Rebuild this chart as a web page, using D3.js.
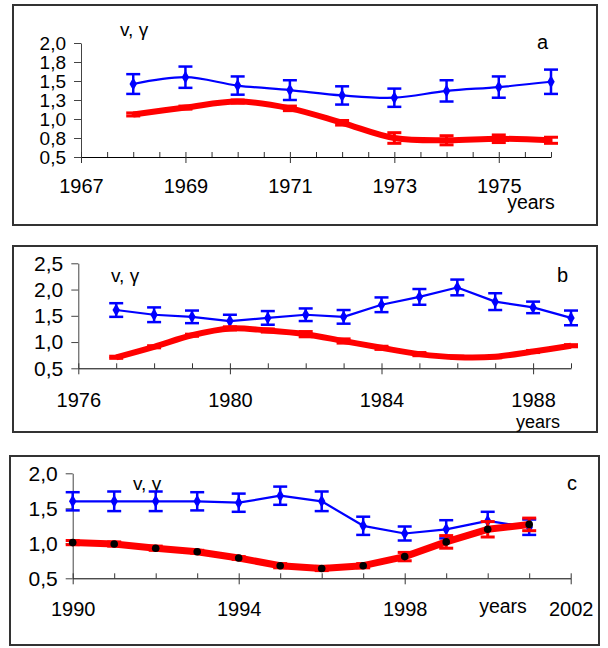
<!DOCTYPE html>
<html>
<head>
<meta charset="utf-8">
<script src="https://cdn.jsdelivr.net/npm/d3@7"></script>
<style>
  html, body { margin: 0; padding: 0; background: #fff; }
  svg { display: block; font-family: "Liberation Sans", Arial, sans-serif; }
</style>
</head>
<body>
<svg id="chart" width="608" height="648"></svg>
<script>
// ---------------- DATA ----------------
// Panel a
const yearsA = [1968, 1969, 1970, 1971, 1972, 1973, 1974, 1975, 1976];
const blueA = [1.46, 1.55, 1.44, 1.38, 1.31, 1.28, 1.37, 1.42, 1.49];
const blueErrA = [0.13, 0.14, 0.12, 0.13, 0.12, 0.12, 0.14, 0.14, 0.16];
const redA = [1.06, 1.15, 1.23, 1.14, 0.95, 0.75, 0.72, 0.74, 0.72];
const redErrA = [0.02, 0.02, 0.02, 0.03, 0.03, 0.07, 0.06, 0.05, 0.04];
const yTicksA = [0.5, 0.75, 1.0, 1.25, 1.5, 1.75, 2.0];
const yLabelsA = ["0,5", "0,8", "1,0", "1,3", "1,5", "1,8", "2,0"];
const xLabelsA = [1967, 1969, 1971, 1973, 1975];

// Panel b
const yearsB = [1977, 1978, 1979, 1980, 1981, 1982, 1983, 1984, 1985, 1986, 1987, 1988, 1989];
const blueB = [1.61, 1.52, 1.48, 1.40, 1.46, 1.52, 1.48, 1.71, 1.86, 2.04, 1.77, 1.66, 1.46];
const blueErrB = [0.13, 0.14, 0.12, 0.12, 0.13, 0.12, 0.13, 0.14, 0.15, 0.15, 0.16, 0.11, 0.14];
const redB = [0.71, 0.91, 1.13, 1.26, 1.22, 1.15, 1.02, 0.89, 0.77, 0.71, 0.72, 0.82, 0.93];
const redErrB = [0.02, 0.02, 0.02, 0.03, 0.03, 0.05, 0.04, 0.03, 0.03, 0.02, 0.02, 0.02, 0.02];
const yTicksB = [0.5, 1.0, 1.5, 2.0, 2.5];
const yLabelsB = ["0,5", "1,0", "1,5", "2,0", "2,5"];
const xLabelsB = [1976, 1980, 1984, 1988];

// Panel c
const yearsC = [1990, 1991, 1992, 1993, 1994, 1995, 1996, 1997, 1998, 1999, 2000, 2001];
const blueC = [1.60, 1.60, 1.60, 1.60, 1.58, 1.68, 1.60, 1.25, 1.14, 1.20, 1.32, 1.23];
const blueErrC = [0.13, 0.14, 0.14, 0.13, 0.13, 0.13, 0.14, 0.13, 0.10, 0.13, 0.13, 0.11];
const redC = [1.01, 0.99, 0.93, 0.88, 0.79, 0.68, 0.64, 0.68, 0.81, 1.02, 1.20, 1.27];
const redErrC = [0.03, 0.03, 0.03, 0.02, 0.02, 0.03, 0.03, 0.03, 0.06, 0.09, 0.11, 0.09];
const yTicksC = [0.5, 1.0, 1.5, 2.0];
const yLabelsC = ["0,5", "1,0", "1,5", "2,0"];
const xLabelsC = [1990, 1994, 1998, 2002];

const axisTitle = "v, γ";
const xTitle = "years";

// ---------------- LAYOUT ----------------
const panels = [
  { letter: "a", years: yearsA, blue: blueA, blueErr: blueErrA, red: redA, redErr: redErrA,
    yTicks: yTicksA, yLabels: yLabelsA, xLabels: xLabelsA,
    frame: [13, 5, 597, 225], xDom: [1967, 1976], xRange: [81, 551], minorStep: 0.5,
    yDom: [0.5, 2.0], yRange: [157, 43], labelDy: 36, yFont: 19,
    yearsPos: [531, 209], yearsFont: 19.5, titlePos: [120, 36], letterPos: [537, 49],
    smoothBlue: true, smoothRed: true, redWidth: 6, dots: false },
  { letter: "b", years: yearsB, blue: blueB, blueErr: blueErrB, red: redB, redErr: redErrB,
    yTicks: yTicksB, yLabels: yLabelsB, xLabels: xLabelsB,
    frame: [13, 246, 597, 432], xDom: [1976, 1989], xRange: [78.3, 571], minorStep: 1,
    yDom: [0.5, 2.5], yRange: [368.3, 263.3], labelDy: 39, yFont: 21,
    yearsPos: [538, 427.5], yearsFont: 18, titlePos: [111, 282], letterPos: [557, 282],
    smoothBlue: false, smoothRed: true, redWidth: 6, dots: false },
  { letter: "c", years: yearsC, blue: blueC, blueErr: blueErrC, red: redC, redErr: redErrC,
    yTicks: yTicksC, yLabels: yLabelsC, xLabels: xLabelsC,
    frame: [10, 456, 599, 645], xDom: [1990, 2002], xRange: [72.7, 570.7], minorStep: 1,
    yDom: [0.5, 2.0], yRange: [578.3, 473.3], labelDy: 38, yFont: 21,
    yearsPos: [503, 613], yearsFont: 19.5, titlePos: [133, 490], letterPos: [567, 490],
    smoothBlue: false, smoothRed: false, redWidth: 7, dots: true }
];

const BLUE = "#0000ff", RED = "#ff0000";
const svg = d3.select("#chart");
svg.append("rect").attr("width", 608).attr("height", 648).attr("fill", "#fff");

panels.forEach(p => {
  const g = svg.append("g");
  const [fx0, fy0, fx1, fy1] = p.frame;
  g.append("rect").attr("x", fx0).attr("y", fy0).attr("width", fx1 - fx0).attr("height", fy1 - fy0)
    .attr("fill", "none").attr("stroke", "#333").attr("stroke-width", 2);

  const x = d3.scaleLinear().domain(p.xDom).range(p.xRange);
  const y = d3.scaleLinear().domain(p.yDom).range(p.yRange);
  const y0 = p.yRange[0];

  // Y axis
  const yAxis = d3.axisLeft(y).tickValues(p.yTicks)
    .tickFormat((d, i) => p.yLabels[i]).tickSize(7).tickSizeOuter(0).tickPadding(8);
  const ya = g.append("g").attr("transform", `translate(${p.xRange[0]},0)`).call(yAxis);
  ya.select(".domain").attr("stroke", "#444");
  ya.selectAll(".tick line").attr("stroke", "#444");
  ya.selectAll("text").attr("font-size", p.yFont).attr("fill", "#000")
    .attr("font-family", "Liberation Sans, Arial, sans-serif");

  // X axis: minor ticks (inside)
  const minor = d3.range(p.xDom[0], p.xDom[1] + 1e-9, p.minorStep);
  const xMinor = d3.axisBottom(x).tickValues(minor).tickSize(-5).tickSizeOuter(0).tickFormat("");
  const xm = g.append("g").attr("transform", `translate(0,${y0})`).call(xMinor);
  xm.select(".domain").attr("stroke", "#000");
  xm.selectAll(".tick line").attr("stroke", "#333");

  // X axis: major ticks (crossing) with labels
  const xMajor = d3.axisBottom(x).tickValues(p.xLabels).tickSize(6).tickSizeOuter(0)
    .tickFormat(d3.format("d"));
  const xM = g.append("g").attr("transform", `translate(0,${y0})`).call(xMajor);
  xM.select(".domain").remove();
  xM.selectAll(".tick line").attr("stroke", "#333");
  xM.selectAll("text").attr("font-size", 20).attr("fill", "#000")
    .attr("y", p.labelDy).attr("dy", "0")
    .attr("font-family", "Liberation Sans, Arial, sans-serif");

  // Titles
  g.append("text").attr("x", p.titlePos[0]).attr("y", p.titlePos[1]).text(axisTitle)
    .attr("font-size", 19).attr("fill", "#000");
  g.append("text").attr("x", p.letterPos[0]).attr("y", p.letterPos[1]).text(p.letter)
    .attr("font-size", 20).attr("fill", "#000");
  g.append("text").attr("x", p.yearsPos[0]).attr("y", p.yearsPos[1]).text(xTitle)
    .attr("text-anchor", "middle").attr("font-size", p.yearsFont).attr("fill", "#000");

  // Series helper
  function drawSeries(vals, errs, color, width, smooth, capW, errW, marker) {
    const pts = p.years.map((yr, i) => ({ yr, v: vals[i], e: errs[i] }));
    const line = d3.line().x(d => x(d.yr)).y(d => y(d.v))
      .curve(smooth ? d3.curveCatmullRom.alpha(0.5) : d3.curveLinear);
    g.append("path").datum(pts).attr("d", line).attr("fill", "none")
      .attr("stroke", color).attr("stroke-width", width)
      .attr("stroke-linejoin", "round").attr("stroke-linecap", "butt");
    const eb = g.append("g").selectAll("g").data(pts).join("g");
    eb.append("line").attr("x1", d => x(d.yr)).attr("x2", d => x(d.yr))
      .attr("y1", d => y(d.v - d.e)).attr("y2", d => y(d.v + d.e))
      .attr("stroke", color).attr("stroke-width", errW);
    [-1, 1].forEach(s => {
      eb.append("line").attr("x1", d => x(d.yr) - capW / 2).attr("x2", d => x(d.yr) + capW / 2)
        .attr("y1", d => y(d.v + s * d.e)).attr("y2", d => y(d.v + s * d.e))
        .attr("stroke", color).attr("stroke-width", errW);
    });
    if (marker) {
      g.append("g").selectAll("path").data(pts).join("path")
        .attr("transform", d => `translate(${x(d.yr)},${y(d.v)})`)
        .attr("d", d3.symbol().type(d3.symbolDiamond).size(48))
        .attr("fill", color);
    }
    return pts;
  }

  drawSeries(p.blue, p.blueErr, BLUE, 2.2, p.smoothBlue, 14, 2.5, true);
  const rp = drawSeries(p.red, p.redErr, RED, p.redWidth, p.smoothRed, 14, 3, false);
  if (p.dots) {
    g.append("g").selectAll("circle").data(rp).join("circle")
      .attr("cx", d => x(d.yr)).attr("cy", d => y(d.v)).attr("r", 3.8).attr("fill", "#000");
  }
});
</script>
</body>
</html>
